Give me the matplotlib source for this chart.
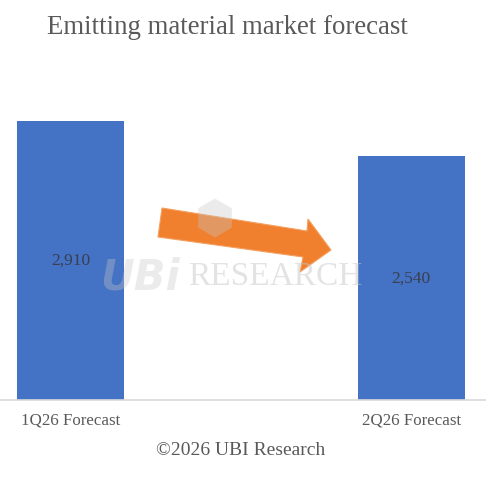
import matplotlib.pyplot as plt
from matplotlib.patches import Polygon, RegularPolygon

# Data
categories = ['1Q26 Forecast', '2Q26 Forecast']
values = [2910, 2540]
value_labels = ['2,910', '2,540']

W, H = 486, 486
fig = plt.figure(figsize=(W / 100, H / 100), dpi=100)
plt.rcParams['font.family'] = ['Liberation Serif', 'DejaVu Serif']

# axes placed so bars sit where they do in the picture
ax = fig.add_axes([0.0, 1 - 400 / H, 1.0, (400 - 112.4) / H])
x = list(range(len(categories)))
ax.bar(x, values, width=0.314, color='#4472C4', zorder=2)
ax.set_xlim(-0.207, 1.220)
ax.set_ylim(0, 3000)

for xi, v, lab in zip(x, values, value_labels):
    ax.text(xi, v / 2, lab, ha='center', va='center', fontsize=12.5,
            color='#3A3F50', zorder=4)

ax.set_xticks(x)
ax.set_xticklabels(categories, fontsize=12.2, color='#595959')
ax.tick_params(axis='x', length=0, pad=9)
ax.set_yticks([])
for s in ['top', 'right', 'left']:
    ax.spines[s].set_visible(False)
ax.spines['bottom'].set_color('#D9D9D9')
ax.spines['bottom'].set_linewidth(1.2)
ax.patch.set_alpha(0)


def px(xp, yp):
    return (xp / W, 1 - yp / H)


# watermark
fig.text(*px(140, 277), 'UBi', fontsize=30, fontweight='bold', style='italic',
         family='DejaVu Sans', color='#C8C8C8', alpha=0.35, ha='center', va='center', zorder=5)
fig.text(*px(275, 277), 'RESEARCH', fontsize=24, color='#C8C8C8', alpha=0.5,
         ha='center', va='center', zorder=5)
fig.patches.append(RegularPolygon(px(215, 218), numVertices=6, radius=0.04,
                                  transform=fig.transFigure, facecolor='#C8C8C8',
                                  alpha=0.35, edgecolor='none', zorder=6))

# orange arrow
arrow_pts = [(162, 208), (307, 231), (308, 219), (331, 250), (300, 272), (303, 257), (158, 237)]
fig.patches.append(Polygon([px(a, b) for a, b in arrow_pts], closed=True,
                           transform=fig.transFigure, facecolor='#F07F2E',
                           edgecolor='#F4A060', linewidth=0.8, zorder=5))

fig.text(*px(227, 27), 'Emitting material market forecast', fontsize=19.3,
         color='#595959', ha='center', va='center')
fig.text(*px(241, 450), '\u00a92026 UBI Research', fontsize=14,
         color='#595959', ha='center', va='center')

fig.savefig('out.png', dpi=100)
